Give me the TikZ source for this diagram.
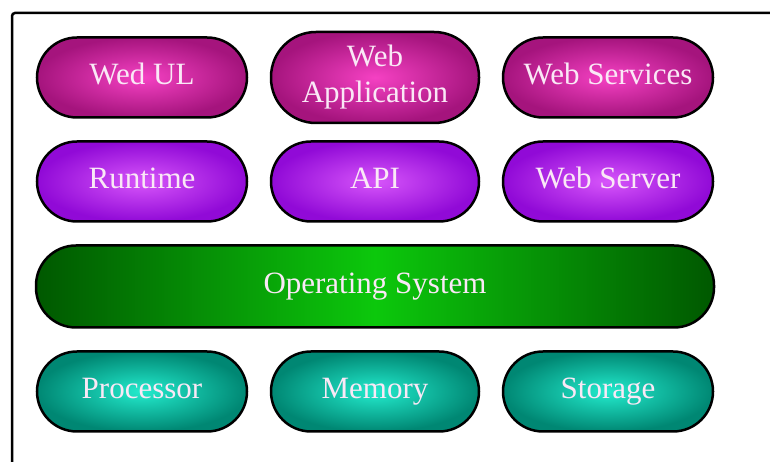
\documentclass[tikz,border=0pt]{standalone}
\usepackage{fontspec}
\setmainfont{Liberation Serif}
\usetikzlibrary{positioning}
\definecolor{magedge}{RGB}{165,20,125}
\definecolor{magcenter}{RGB}{245,65,195}
\definecolor{purpedge}{RGB}{145,10,215}
\definecolor{purpcenter}{RGB}{215,85,250}
\definecolor{osedge}{RGB}{0,88,0}
\definecolor{oscenter}{RGB}{12,200,12}
\definecolor{hwedge}{RGB}{0,135,115}
\definecolor{hwcenter}{RGB}{35,235,205}
\definecolor{textpale}{RGB}{250,232,246}
\tikzset{
    node distance=21.5pt, % gap between two boxes (line width taken off)
    layer/.style={rectangle, rounded corners=40pt, draw=black, line width=2.5pt,
        minimum width=210pt, minimum height=80pt, align=center,
        text height=21pt, text depth=7pt,
        text=textpale, font=\fontsize{31}{36}\selectfont}, % every box of the stack
    webbox/.style={layer, inner color=magcenter, outer color=magedge},
    runbox/.style={layer, inner color=purpcenter, outer color=purpedge},
    osbox/.style={layer, minimum width=678pt, minimum height=82pt,
        left color=osedge, right color=osedge, middle color=oscenter},
    hwbox/.style={layer, inner color=hwcenter, outer color=hwedge},
}
\begin{document}
\begin{tikzpicture}[x=1pt,y=1pt]
  \useasboundingbox (0,0) rectangle (770,462);
  \clip (0,0) rectangle (770,462);
  % outer frame
  \draw[line width=2.5pt, rounded corners=3pt] (12,449) rectangle (800,-20);

  % web layer
  \node[webbox] (wed_ui) at (142,384.5) {Wed UL};
  \node[webbox,minimum width=208pt,minimum height=91pt,rounded corners=45pt,
        text height=,text depth=] (web_app) [right=of wed_ui] {Web\\Application};
  \node[webbox] (web_srv) [right=of web_app] {Web Services};

  % runtime layer
  \node[runbox] (runtime) [below=of wed_ui] {Runtime};
  \node[runbox,minimum width=208pt] (api) [right=of runtime] {API};
  \node[runbox] (web_server) [right=of api] {Web Server};

  % operating system
  \node[osbox] (os) [below=of api] {Operating System};

  % hardware
  \node[hwbox,minimum width=208pt] (memory) [below=of os] {Memory};
  \node[hwbox] (processor) [left=of memory] {Processor};
  \node[hwbox] (storage) [right=of memory] {Storage};
\end{tikzpicture}
\end{document}
